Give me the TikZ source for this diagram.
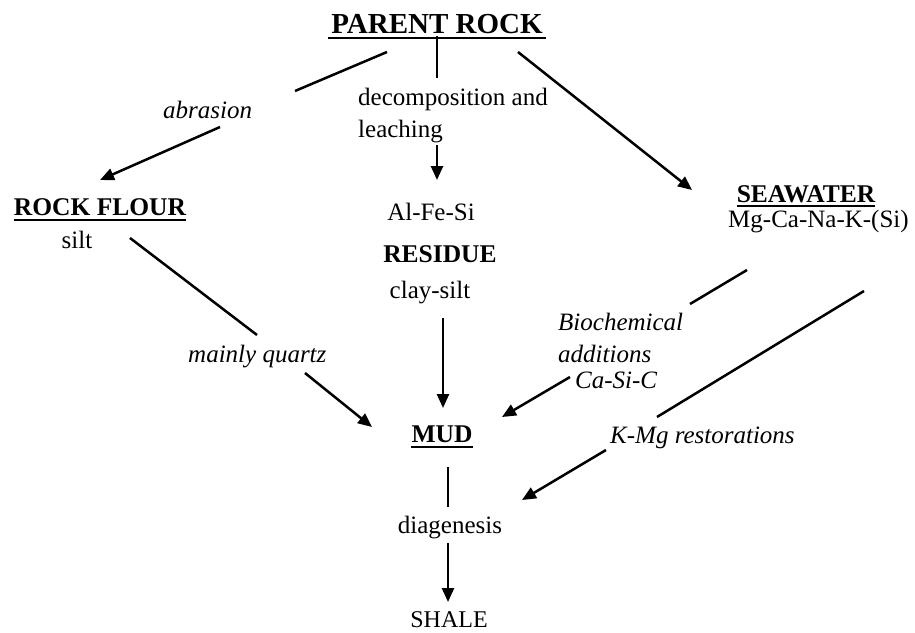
\documentclass[tikz,border=0pt]{standalone}
\usepackage{fontspec}
\setmainfont{Liberation Serif}
\usetikzlibrary{arrows.meta}
\begin{document}
\begin{tikzpicture}[x=1pt,y=-1pt,
  txt/.style={inner sep=0pt, anchor=base, font=\fontsize{25}{30}\selectfont},
  txtl/.style={txt, anchor=base west},
  bold/.style={inner sep=0pt, anchor=base, font=\fontsize{25.5}{30}\selectfont\bfseries},
  ital/.style={inner sep=0pt, anchor=base west, font=\fontsize{25}{30}\selectfont\itshape},
  ln/.style={line width=2.5pt},
  arr/.style={line width=2.5pt, -{Triangle[length=14pt,width=12pt]}},
  ul/.style={line width=2pt}]
\useasboundingbox (0,0) rectangle (915,632);

% nodes
\node[bold, font=\fontsize{29}{34}\selectfont\bfseries] (pr) at (437,33) {PARENT ROCK};
\node[txtl] (dec1) at (358,105) {decomposition and};
\node[txtl] (dec2) at (358,137) {leaching};
\node[ital] (abr) at (163,118) {abrasion};
\node[bold] (rf) at (100,215) {ROCK FLOUR};
\node[txt] (silt) at (77,248) {silt};
\node[txt] (afs) at (431,220) {Al-Fe-Si};
\node[bold] (res) at (440,262) {RESIDUE};
\node[txt] (cs) at (430,298) {clay-silt};
\node[bold] (sw) at (806,202) {SEAWATER};
\node[txtl] (mg) at (728,227) {Mg-Ca-Na-K-(Si)};
\node[ital] (mq) at (188,362) {mainly quartz};
\node[ital] (bio1) at (558,330) {Biochemical};
\node[ital] (bio2) at (558,362) {additions};
\node[ital] (bio3) at (575,388) {Ca-Si-C};
\node[ital] (kmg) at (610,443) {K-Mg restorations};
\node[bold] (mud) at (442,442) {MUD};
\node[txt] (dia) at (450,533) {diagenesis};
\node[txt, font=\fontsize{24}{29}\selectfont] (sh) at (449,627) {SHALE};

% underlines
\draw[ul] ([xshift=-3pt,yshift=-5pt]pr.base west) -- ([xshift=3pt,yshift=-5pt]pr.base east);
\draw[ul] ([yshift=-5pt]rf.base west) -- ([yshift=-5pt]rf.base east);
\draw[ul] ([yshift=-4pt]sw.base west) -- ([yshift=-4pt]sw.base east);
\draw[ul] ([yshift=-5pt]mud.base west) -- ([yshift=-5pt]mud.base east);

% connector end points
\coordinate (a1) at (437,36);  \coordinate (a2) at (437,78);
\coordinate (a3) at (437,145); \coordinate (a4) at (437,180);
\coordinate (b1) at (387,52);  \coordinate (b2) at (295,91);
\coordinate (b3) at (220,127); \coordinate (b4) at (100,180);
\coordinate (c1) at (518,52);  \coordinate (c2) at (692,190);
\coordinate (d1) at (130,238); \coordinate (d2) at (257,335);
\coordinate (d3) at (305,373); \coordinate (d4) at (372,427);
\coordinate (e1) at (443,318); \coordinate (e2) at (443,408);
\coordinate (f1) at (747,270); \coordinate (f2) at (690,304);
\coordinate (f3) at (570,377); \coordinate (f4) at (502,417);
\coordinate (g1) at (864,291); \coordinate (g2) at (657,417);
\coordinate (g3) at (606,450); \coordinate (g4) at (522,500);
\coordinate (h1) at (448,467); \coordinate (h2) at (448,507);
\coordinate (h3) at (448,543); \coordinate (h4) at (448,602);

% connectors
\draw[ln] (a1) -- (a2);
\draw[arr] (a3) -- (a4);
\draw[ln] (b1) -- (b2);
\draw[arr] (b3) -- (b4);
\draw[arr] (c1) -- (c2);
\draw[ln] (d1) -- (d2);
\draw[arr] (d3) -- (d4);
\draw[arr] (e1) -- (e2);
\draw[ln] (f1) -- (f2);
\draw[arr] (f3) -- (f4);
\draw[ln] (g1) -- (g2);
\draw[arr] (g3) -- (g4);
\draw[ln] (h1) -- (h2);
\draw[arr] (h3) -- (h4);
\end{tikzpicture}
\end{document}
